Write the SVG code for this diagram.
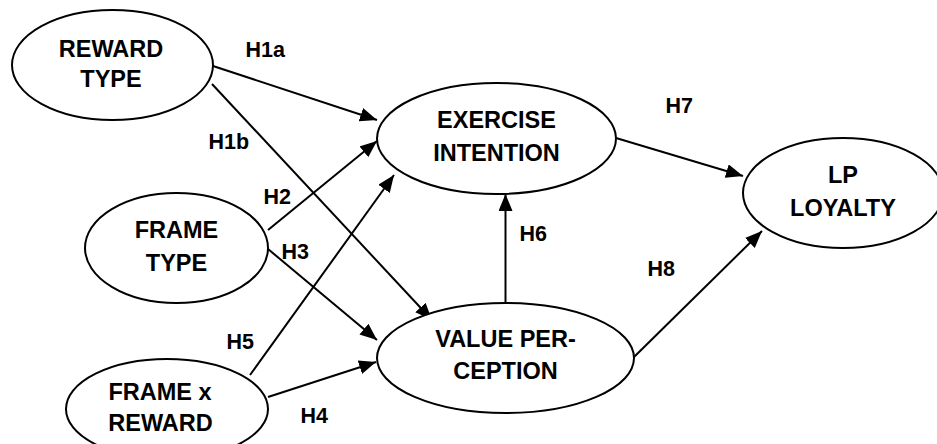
<svg xmlns="http://www.w3.org/2000/svg" width="937" height="444" viewBox="0 0 937 444">
  <style>
    .node ellipse { fill: #ffffff; stroke: #000000; stroke-width: 2; }
    .node text { font-family: "Liberation Sans", Arial, sans-serif; font-weight: bold; font-size: 23.5px; text-anchor: middle; fill: #000000; }
    .edge { stroke: #000000; stroke-width: 2; fill: none; marker-end: url(#arrow); }
    .label { font-family: "Liberation Sans", Arial, sans-serif; font-weight: bold; font-size: 21.5px; fill: #000000; }
  </style>
  <defs>
    <marker id="arrow" markerUnits="userSpaceOnUse" markerWidth="18" markerHeight="14" refX="17" refY="7" orient="auto">
      <path d="M0,0 L17,7 L0,14 z" fill="#000000"/>
    </marker>
  </defs>
  <rect width="937" height="444" fill="#ffffff"/>

  <!-- connectors -->
  <g id="connectors">
    <line class="edge" x1="213" y1="66" x2="377" y2="120"/>
    <line class="edge" x1="212" y1="84" x2="432" y2="320"/>
    <line class="edge" x1="268" y1="230" x2="377" y2="141"/>
    <line class="edge" x1="268" y1="249" x2="377" y2="340"/>
    <line class="edge" x1="250" y1="375" x2="394" y2="175"/>
    <line class="edge" x1="268" y1="397" x2="376" y2="362"/>
    <line class="edge" x1="505.5" y1="303" x2="505.5" y2="194"/>
    <line class="edge" x1="616" y1="138" x2="743" y2="176"/>
    <line class="edge" x1="634" y1="357" x2="762" y2="231"/>
  </g>

  <!-- path labels -->
  <g id="labels">
    <text class="label" x="245.5" y="57">H1a</text>
    <text class="label" x="208.5" y="149">H1b</text>
    <text class="label" x="263.5" y="204">H2</text>
    <text class="label" x="281.5" y="259">H3</text>
    <text class="label" x="226.5" y="349">H5</text>
    <text class="label" x="300.5" y="423">H4</text>
    <text class="label" x="519.5" y="241">H6</text>
    <text class="label" x="665.5" y="113">H7</text>
    <text class="label" x="647.5" y="276">H8</text>
  </g>

  <!-- nodes -->
  <g id="reward-type" class="node">
    <ellipse cx="112.5" cy="65" rx="100.5" ry="55"/>
    <text x="111" y="56.5">REWARD</text>
    <text x="111" y="87">TYPE</text>
  </g>
  <g id="frame-type" class="node">
    <ellipse cx="176.5" cy="248" rx="91.5" ry="55"/>
    <text x="176.5" y="238">FRAME</text>
    <text x="176.5" y="271">TYPE</text>
  </g>
  <g id="frame-x-reward" class="node">
    <ellipse cx="167" cy="409" rx="101" ry="50"/>
    <text x="160" y="400">FRAME x</text>
    <text x="160.5" y="430.5">REWARD</text>
  </g>
  <g id="exercise-intention" class="node">
    <ellipse cx="496.5" cy="138.5" rx="119.5" ry="55.5"/>
    <text x="496.5" y="128">EXERCISE</text>
    <text x="496.5" y="161">INTENTION</text>
  </g>
  <g id="value-perception" class="node">
    <ellipse cx="505.5" cy="358" rx="128.5" ry="55"/>
    <text x="505.5" y="347">VALUE PER-</text>
    <text x="505.5" y="379">CEPTION</text>
  </g>
  <g id="lp-loyalty" class="node">
    <ellipse cx="843" cy="193" rx="100" ry="55"/>
    <text x="843" y="183">LP</text>
    <text x="843" y="216">LOYALTY</text>
  </g>
</svg>
